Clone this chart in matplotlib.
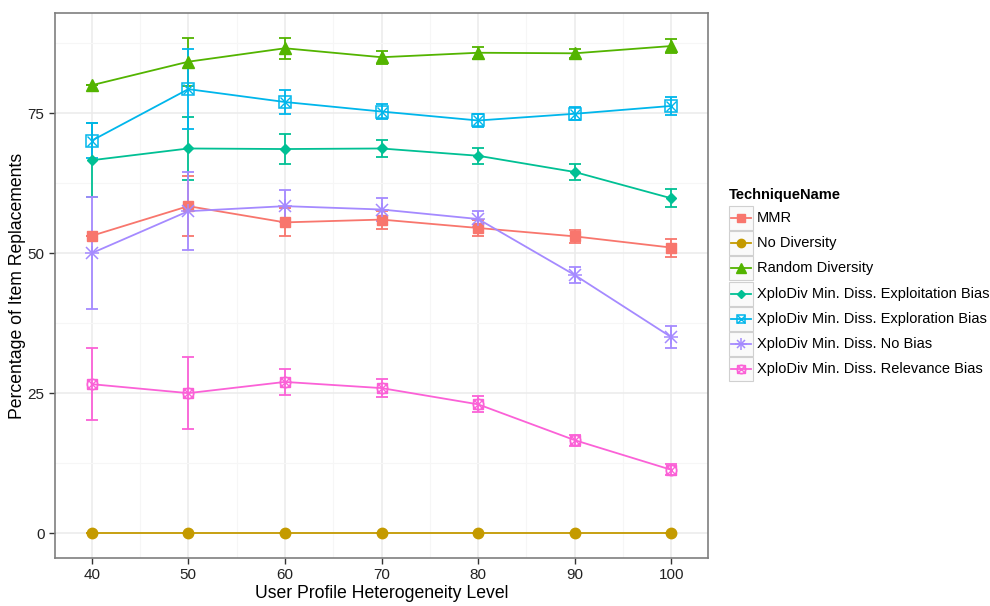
import matplotlib
matplotlib.use('Agg')
import matplotlib.pyplot as plt
from matplotlib.lines import Line2D
from matplotlib.patches import Rectangle

plt.rcParams['font.family'] = ['Liberation Sans', 'DejaVu Sans']

# 横轴：用户画像异质性水平
levels = [40, 50, 60, 70, 80, 90, 100]

# 各方法的均值和误差（从图上读出来的）
mmr = [53.1, 58.4, 55.5, 56.0, 54.5, 53.0, 51.0]
mmr_err = [0, 5.3, 2.5, 1.6, 1.4, 1.2, 1.6]
no_div = [0, 0, 0, 0, 0, 0, 0]
no_div_err = [0, 0, 0, 0, 0, 0, 0]
random_div = [80.0, 84.2, 86.6, 85.0, 85.8, 85.7, 87.0]
random_div_err = [0, 4.3, 1.9, 1.2, 1.1, 0.8, 1.2]
exploit = [66.6, 68.7, 68.6, 68.7, 67.4, 64.5, 59.8]
exploit_err = [6.6, 5.6, 2.7, 1.5, 1.4, 1.4, 1.6]
explore = [70.1, 79.3, 77.0, 75.3, 73.7, 74.9, 76.3]
explore_err = [3.1, 7.2, 2.1, 1.4, 1.2, 1.2, 1.6]
no_bias = [50.0, 57.5, 58.4, 57.8, 56.1, 46.1, 35.0]
no_bias_err = [10.0, 7.0, 2.9, 2.0, 1.4, 1.4, 2.0]
relevance = [26.6, 25.0, 27.0, 25.9, 23.0, 16.6, 11.3]
relevance_err = [6.4, 6.4, 2.3, 1.6, 1.4, 1.0, 1.0]

names = ['MMR', 'No Diversity', 'Random Diversity',
         'XploDiv Min. Diss. Exploitation Bias', 'XploDiv Min. Diss. Exploration Bias',
         'XploDiv Min. Diss. No Bias', 'XploDiv Min. Diss. Relevance Bias']
colors = ['#F8766D', '#C49A00', '#53B400', '#00C094', '#00B6EB', '#A58AFF', '#FB61D7']
series = [(mmr, mmr_err), (no_div, no_div_err), (random_div, random_div_err),
          (exploit, exploit_err), (explore, explore_err), (no_bias, no_bias_err),
          (relevance, relevance_err)]

# 每条线的标记样式 (marker, size, filled, 叠加的marker)
styles = [('s', 7.5, True, None), ('o', 7.5, True, None), ('^', 9, True, None),
          ('D', 5, True, None), ('s', 8, False, 'x'), ('*', 0, False, 'ast'),
          ('o', 7.5, False, 'x')]


def marker_specs(c, style, k=1.0):
    # 返回若干组Line2D参数，叠起来就是ggplot的各种shape，k是缩放
    m, ms, filled, extra = style
    if extra == 'ast':
        return [dict(marker='x', ms=8 * k, mew=1.1, color=c),
                dict(marker='+', ms=10 * k, mew=1.1, color=c)]
    if filled:
        return [dict(marker=m, ms=ms * k, color=c, mec=c)]
    specs = [dict(marker=m, ms=ms * k, mfc='none', mec=c, mew=1.1),
             dict(marker=extra, ms=ms * 0.9 * k, mew=1.0, color=c)]
    if m == 'o':
        specs.append(dict(marker='s', ms=ms * k, mfc='none', mec=c, mew=1.0))
    return specs


fig = plt.figure(figsize=(9.9, 6.06), dpi=100)
ax = fig.add_axes([55 / 990, 48 / 606, 653 / 990, 545 / 606])

for (vals, errs), c, st in zip(series, colors, styles):
    ax.errorbar(levels, vals, yerr=errs, color=c, lw=1.3, elinewidth=1.3,
                capsize=4.5, capthick=1.3, zorder=3)
    for kw in marker_specs(c, st):
        ax.plot(levels, vals, ls='none', zorder=4, **kw)

ax.set_xlim(36.2, 103.8)
ax.set_ylim(-4.45, 92.9)
ax.set_xticks(levels)
ax.set_yticks([0, 25, 50, 75])
ax.set_xticks([45, 55, 65, 75, 85, 95], minor=True)
ax.set_yticks([12.5, 37.5, 62.5, 87.5], minor=True)
ax.grid(True, which='major', color='#EBEBEB', lw=1.1, zorder=0)
ax.grid(True, which='minor', color='#F6F6F6', lw=0.8, zorder=0)
ax.set_axisbelow(True)
ax.tick_params(which='major', length=4, width=1, color='#333333', labelsize=11, labelcolor='#222222')
ax.tick_params(which='minor', length=0)
for sp in ax.spines.values():
    sp.set_color('#7F7F7F')
    sp.set_linewidth(1.2)
ax.set_xlabel('User Profile Heterogeneity Level', fontsize=12.7, labelpad=2)
ax.set_ylabel('Percentage of Item Replacements', fontsize=12.7, labelpad=1)

# 图例（手动画，带灰色边框的小格子）
fig.text(729 / 990, 1 - 195 / 606, 'TechniqueName', fontsize=10.5, fontweight='bold',
         va='center', ha='left')
for i, (name, c, st) in enumerate(zip(names, colors, styles)):
    yc = 1 - (218 + i * 25.2) / 606
    fig.add_artist(Rectangle((729 / 990, yc - 12 / 606), 24 / 990, 24 / 606,
                             transform=fig.transFigure, fc='#FAFAFA', ec='#D0D0D0', lw=0.8,
                             zorder=5))
    fig.add_artist(Line2D([731 / 990, 751 / 990], [yc, yc], transform=fig.transFigure,
                          color=c, lw=1.3, zorder=6))
    for kw in marker_specs(c, st, k=0.8):
        fig.add_artist(Line2D([741 / 990], [yc], ls='none', transform=fig.transFigure,
                              zorder=7, **kw))
    fig.text(757 / 990, yc, name, fontsize=10.5, va='center', ha='left')

fig.savefig('out.png', dpi=100)
